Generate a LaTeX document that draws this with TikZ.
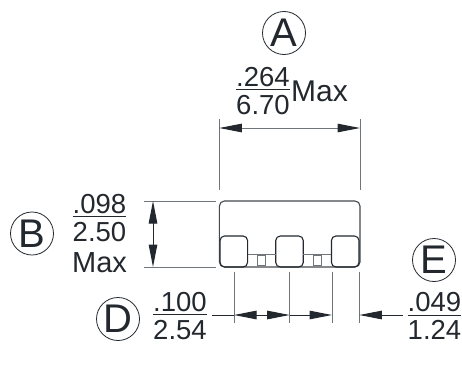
\documentclass[tikz,border=0pt]{standalone}
\usepackage{xcolor}
\usepackage{fontspec}
\setmainfont{Liberation Sans}
\usetikzlibrary{positioning,arrows.meta}
\definecolor{inkdark}{HTML}{22282E}
\definecolor{inkgray}{HTML}{70757A}
\tikzset{
    label/.style={text=inkdark, inner sep=0pt, outer sep=0pt, anchor=base, font=\fontsize{27.5}{27.5}\selectfont},
    maxlabel/.style={label, font=\fontsize{29}{29}\selectfont},
    letter/.style={circle, draw=inkdark, line width=0.8pt, minimum size=43pt, inner sep=0pt, outer sep=0pt, text=inkdark, font=\fontsize{40}{40}\selectfont},
    pad/.style={rectangle, rounded corners=4.5pt, draw=inkdark, line width=1.1pt, minimum width=27.5pt, minimum height=31pt, inner sep=0pt, outer sep=0pt},
    gate/.style={rectangle, draw=inkgray, line width=1pt, minimum width=8.4pt, minimum height=10.5pt, inner sep=0pt, outer sep=0pt},
    extline/.style={draw=inkgray, line width=1pt},
    dimline/.style={draw=inkdark, line width=1pt},
    tip/.style={-{Triangle[length=22.5pt,width=8.5pt,fill=inkdark,inkdark]}},
    fracrule/.style={draw=inkdark, line width=1pt}
}
\begin{document}
\begin{tikzpicture}[x=1pt, y=-1pt, node distance=28.2pt]
    \useasboundingbox (0,0) rectangle (462,372);

    % package outline and pads
    \node [rectangle, rounded corners=5pt, draw=inkdark!85, line width=1.1pt, minimum width=140.6pt, minimum height=66pt, inner sep=0pt, outer sep=0pt] (body) at (289.7,234) {};
    \node [pad] (pad1) at (233.8,251.5) {};
    \node [pad, right=of pad1] (pad2) {};
    \node [pad, right=of pad2] (pad3) {};
    \draw [extline] ([yshift=-2.8pt]pad1.east) -- ([yshift=-2.8pt]pad2.west);
    \draw [extline] ([yshift=-2.8pt]pad2.east) -- ([yshift=-2.8pt]pad3.west);
    \node [gate] (gate1) at (261.5,260.4) {};
    \node [gate] (gate2) at (317.6,260.4) {};

    % dimension A
    \node [letter] (circA) at (284,33) {A};
    \node [label] (topA) at (263,86) {.264};
    \node [label] (botA) at (263,114) {6.70};
    \node [maxlabel, font=\fontsize{30}{30}\selectfont] (maxA) at (319.5,101) {Max};
    \draw [fracrule] ([yshift=-3.5pt]topA.base west) -- ([yshift=-3.5pt]topA.base east);
    \coordinate (extA1) at (219.3,119);
    \coordinate (extA2) at (360,119);
    \coordinate (extA3) at (219.3,190);
    \coordinate (extA4) at (360,190);
    \draw [extline] (extA1) -- (extA3);
    \draw [extline] (extA2) -- (extA4);
    \coordinate (arrA1) at (219.3,128);
    \coordinate (arrA2) at (360,128);
    \coordinate (midA) at (289.7,128);
    \draw [extline, tip] (midA) -- (arrA1);
    \draw [extline, tip] (midA) -- (arrA2);

    % dimension B
    \node [letter] (circB) at (32,233.5) {B};
    \node [label] (topB) at (99.5,213) {.098};
    \node [label] (botB) at (99.5,241) {2.50};
    \node [maxlabel] (maxB) at (99.5,272.5) {Max};
    \draw [fracrule] ([yshift=-3.7pt]topB.base west) -- ([yshift=-3.7pt]topB.base east);
    \coordinate (extB1) at (144,201);
    \coordinate (extB2) at (216,201);
    \coordinate (extB3) at (144,267);
    \coordinate (extB4) at (216,267);
    \draw [extline] (extB1) -- (extB2);
    \draw [extline] (extB3) -- (extB4);
    \coordinate (arrB1) at (153,201);
    \coordinate (arrB2) at (153,267);
    \coordinate (midB) at (153,234);
    \draw [dimline, tip] (midB) -- (arrB1);
    \draw [dimline, tip] (midB) -- (arrB2);

    % dimension D
    \node [letter] (circD) at (118,319) {D};
    \node [label] (topD) at (180,311) {.100};
    \node [label] (botD) at (180,339) {2.54};
    \draw [fracrule] ([yshift=-3.7pt]topD.base west) -- ([yshift=-3.7pt]topD.base east);
    \foreach \name/\xpos in {a/234,b/289.7,c/332,d/359.3} {
        \coordinate (tick\name1) at (\xpos,271.7);
        \coordinate (tick\name2) at (\xpos,323);
        \draw [extline] (tick\name1) -- (tick\name2);
    }
    \coordinate (startD) at (212,315);
    \coordinate (arrD1) at (234,315);
    \coordinate (arrD2) at (289.7,315);
    \coordinate (arrD3) at (332,315);
    \coordinate (midD) at (262,315);
    \draw [dimline] (startD) -- (arrD1);
    \draw [dimline, tip] (midD) -- (arrD1);
    \draw [dimline, tip] (midD) -- (arrD2);
    \draw [dimline, tip] (arrD2) -- (arrD3);

    % dimension E
    \node [letter] (circE) at (434,260) {E};
    \node [label] (topE) at (434.5,311) {.049};
    \node [label] (botE) at (434.5,339) {1.24};
    \draw [fracrule] ([yshift=-4pt]topE.base west) -- ([yshift=-4pt]topE.base east);
    \coordinate (startE) at (403,315);
    \coordinate (arrE) at (359.3,315);
    \draw [dimline, tip] (startE) -- (arrE);
\end{tikzpicture}
\end{document}
